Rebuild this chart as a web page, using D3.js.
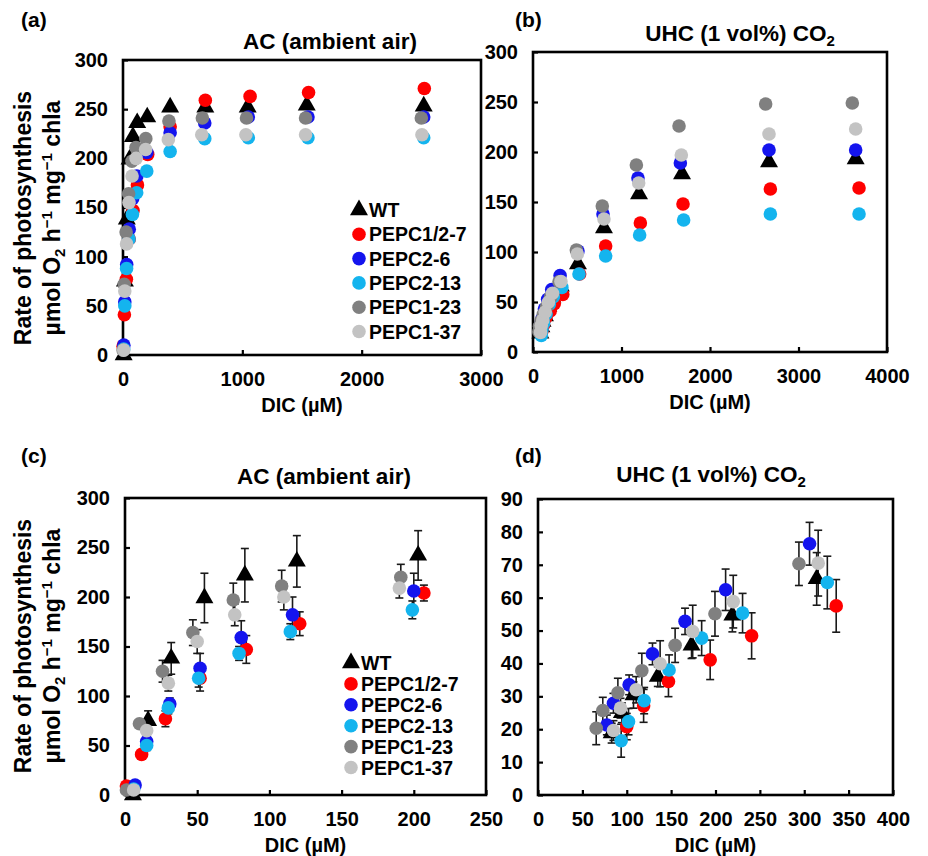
<!DOCTYPE html>
<html>
<head>
<meta charset="utf-8">
<script src="https://cdn.jsdelivr.net/npm/d3@7"></script>
<style>
    body { margin: 0; background: #fff; }
    svg { display: block; font-family: "Liberation Sans", Arial, sans-serif; font-weight: bold; }
</style>
</head>
<body>
<svg></svg>
<script>
/**
 * photosynthesis vs DIC, four panels
 */
const strains = ['WT', 'PEPC1/2-7', 'PEPC2-6', 'PEPC2-13', 'PEPC1-23', 'PEPC1-37'];
const colors = ['#000000', '#ff0000', '#1414ee', '#14b4ee', '#808080', '#c3c3c3'];

// AC (ambient air): [DIC µM, rate, sd]  (sd only measured up to 250 µM)
const acWT = [[5.5, 0, 2], [16, 75, 10], [32, 138, 16], [55, 199, 25], [83, 222, 27], [119, 236, 26], [203, 242, 25],
    [395, 252], [690, 252], [1045, 252], [1540, 254], [2520, 253]];
const acPEPC127 = [[1, 9, 3], [11.5, 41, 4], [28, 77, 8], [52, 118, 13], [84, 147, 14], [121, 173, 12], [207, 204, 8],
    [395, 232], [690, 259], [1065, 263], [1555, 267], [2525, 271]];
const acPEPC26 = [[7, 10, 3], [15, 54, 5], [31, 92, 6], [52, 128, 15], [80.5, 159, 17], [116, 182, 18], [200, 206, 18],
    [395, 226], [685, 236], [1050, 242], [1550, 242], [2520, 242]];
const acPEPC213 = [[6, 6, 3], [15, 50, 5], [30, 88, 6], [51, 118, 9], [79, 143, 7], [114.5, 165, 8], [199, 187, 9],
    [395, 207], [685, 220], [1050, 221], [1550, 221], [2520, 221]];
const acPEPC123 = [[1, 5, 2], [10, 72, 4], [26, 125, 11], [47, 164, 13], [75, 197, 17], [108.5, 211, 16], [191, 220, 13],
    [385, 238], [665, 241], [1035, 241], [1530, 241], [2500, 241]];
const acPEPC137 = [[6, 5, 2], [15, 65, 5], [30, 113, 8], [50, 155, 12], [76, 182, 11], [110, 200, 13], [190, 209, 10],
    [380, 219], [660, 224], [1030, 224], [1530, 224], [2505, 224]];

// UHC (1 vol% CO2): [DIC µM, rate, sd]
const uhcWT = [[83, 18.8, 3], [94.5, 25, 3], [107.6, 30.4, 4], [135, 36, 3], [173, 45.5, 4], [219, 54.6, 5], [314, 65.7, 8],
    [508, 88], [802, 124], [1198, 158], [1684, 178], [2667, 190], [3646, 193]];
const uhcPEPC127 = [[100, 20.8, 4], [119, 27.1, 5], [147, 34.5, 4.6], [194, 41.1, 6], [240.7, 48.4, 7], [336, 57.5, 8],
    [527, 78], [821, 106], [1213, 129], [1695, 148], [2682, 163], [3684, 164]];
const uhcPEPC26 = [[77.6, 21.3, 3], [85, 27.9, 3], [102.7, 33.5, 3], [129, 42.9, 3.3], [165.7, 52.8, 4], [211.4, 62.4, 6.3], [306, 76.4, 6.5],
    [508, 101], [791, 138], [1186, 174], [1665, 189], [2667, 202], [3646, 202]];
const uhcPEPC213 = [[93.7, 16.5, 5], [102, 22.3, 4], [119.6, 28.7, 4], [147.7, 38, 4.6], [184.4, 47.7, 5.3], [230.5, 55.3, 6], [326, 64.6, 8],
    [520, 78], [821, 96], [1205, 117], [1702, 132], [2682, 138], [3684, 138]];
const uhcPEPC123 = [[65.6, 20.3, 5], [73, 25.7, 4], [90, 31.1, 4.4], [117, 37.8, 5.3], [154.5, 45.5, 5.2], [199.4, 55.1, 6.8], [294, 70.3, 6.6],
    [490, 102], [783, 146], [1168, 187], [1650, 226], [2629, 248], [3608, 249]];
const uhcPEPC137 = [[85, 19.6, 3], [93, 26.4, 3], [110.6, 32, 4], [137.6, 39.9, 7], [174.3, 49.7, 8], [220, 58.8, 8], [315.7, 70.5, 10],
    [501, 98], [802, 133], [1194, 169], [1676, 197], [2667, 218], [3646, 223]];

const acData = [acWT, acPEPC127, acPEPC26, acPEPC213, acPEPC123, acPEPC137];
const uhcData = [uhcWT, uhcPEPC127, uhcPEPC26, uhcPEPC213, uhcPEPC123, uhcPEPC137];

const rateTicks = [0, 50, 100, 150, 200, 250, 300];
const uhcRateTicks = [0, 10, 20, 30, 40, 50, 60, 70, 80, 90];
const acWideTicks = [0, 1000, 2000, 3000];
const uhcWideTicks = [0, 1000, 2000, 3000, 4000];
const acLowTicks = [0, 50, 100, 150, 200, 250];
const uhcLowTicks = [0, 50, 100, 150, 200, 250, 300, 350, 400];

const svg = d3
    .select('svg')
    .attr('width', 928)
    .attr('height', 856);

const triangle = d3.symbol().type(d3.symbolTriangle).size(140);

function drawPanel(p) {
    const x = d3.scaleLinear().domain(p.xDomain).range([p.left, p.right]);
    const y = d3.scaleLinear().domain(p.yDomain).range([p.bottom, p.top]);
    const g = svg.append('g');

    const xAxis = g.append('g')
        .attr('transform', `translate(0,${p.bottom})`)
        .call(d3.axisBottom(x).tickValues(p.xTicks).tickSize(-5).tickPadding(17).tickFormat(d3.format('d')));
    const yAxis = g.append('g')
        .attr('transform', `translate(${p.left},0)`)
        .call(d3.axisLeft(y).tickValues(p.yTicks).tickSize(-5).tickPadding(15));
    [xAxis, yAxis].forEach((a) => {
        a.select('.domain').remove();
        a.attr('font-family', null).attr('font-size', 20);
        a.selectAll('line').attr('stroke', '#000').attr('stroke-width', 2.2);
        a.selectAll('text').attr('fill', '#000');
    });

    g.append('rect')
        .attr('x', p.left)
        .attr('y', p.top)
        .attr('width', p.right - p.left)
        .attr('height', p.bottom - p.top)
        .attr('fill', 'none')
        .attr('stroke', '#000')
        .attr('stroke-width', 2.6);

    g.append('text')
        .attr('x', p.labelX)
        .attr('y', p.labelY)
        .attr('font-size', 21)
        .text(p.label);

    const title = g.append('text')
        .attr('x', p.titleX)
        .attr('y', p.titleY)
        .attr('text-anchor', 'middle')
        .attr('font-size', 22.5);
    if (p.uhc) {
        title.append('tspan').text('UHC (1 vol%) CO');
        title.append('tspan').attr('font-size', 15).attr('dy', 5).text('2');
    } else {
        title.text('AC  (ambient air)');
    }

    g.append('text')
        .attr('x', (p.left + p.right) / 2)
        .attr('y', p.bottom + 57)
        .attr('text-anchor', 'middle')
        .attr('font-size', 20)
        .text('DIC (µM)');

    const pts = [];
    p.data.forEach((s, i) => {
        s.filter((d) => d[0] <= p.xDomain[1]).forEach((d) => pts.push({ s: i, x: d[0], y: d[1], sd: d[2] }));
    });

    if (p.errors) {
        const eb = g.append('g').attr('stroke', '#1a1a1a').attr('stroke-width', 1.6);
        pts.filter((d) => d.sd).forEach((d) => {
            const cx = x(d.x);
            eb.append('line').attr('x1', cx).attr('x2', cx).attr('y1', y(d.y - d.sd)).attr('y2', y(d.y + d.sd));
            eb.append('line').attr('x1', cx - 4).attr('x2', cx + 4).attr('y1', y(d.y - d.sd)).attr('y2', y(d.y - d.sd));
            eb.append('line').attr('x1', cx - 4).attr('x2', cx + 4).attr('y1', y(d.y + d.sd)).attr('y2', y(d.y + d.sd));
        });
    }

    pts.forEach((d) => {
        if (d.s === 0) {
            g.append('path')
                .attr('d', triangle)
                .attr('transform', `translate(${x(d.x)},${y(d.y)})`)
                .attr('fill', colors[0]);
        } else {
            g.append('circle')
                .attr('cx', x(d.x))
                .attr('cy', y(d.y))
                .attr('r', 6.8)
                .attr('fill', colors[d.s]);
        }
    });

    if (p.legend) {
        const lg = g.append('g').attr('font-size', 19.5);
        strains.forEach((name, i) => {
            const ly = p.legend.y + i * p.legend.step;
            if (i === 0) {
                lg.append('path')
                    .attr('d', triangle)
                    .attr('transform', `translate(${p.legend.x},${ly})`)
                    .attr('fill', colors[0]);
            } else {
                lg.append('circle').attr('cx', p.legend.x).attr('cy', ly).attr('r', 6.8).attr('fill', colors[i]);
            }
            lg.append('text')
                .attr('x', p.legend.x + 10)
                .attr('y', ly)
                .attr('dy', '0.36em')
                .text(name);
        });
    }

    if (p.yLabel) {
        const yl = g.append('g').attr('font-size', 23);
        yl.append('text')
            .attr('transform', `translate(31,${p.yLabel}) rotate(-90)`)
            .attr('text-anchor', 'middle')
            .text('Rate of  photosynthesis');
        const t2 = yl.append('text')
            .attr('transform', `translate(60,${p.yLabel}) rotate(-90)`)
            .attr('text-anchor', 'middle');
        t2.append('tspan').text('µmol O');
        t2.append('tspan').attr('font-size', 15).attr('dy', 5).text('2');
        t2.append('tspan').attr('dy', -5).text(' h');
        t2.append('tspan').attr('font-size', 15).attr('dy', -8).text('−1');
        t2.append('tspan').attr('dy', 8).text(' mg');
        t2.append('tspan').attr('font-size', 15).attr('dy', -8).text('−1');
        t2.append('tspan').attr('dy', 8).text(' chla');
    }
}

drawPanel({
    label: '(a)', labelX: 21, labelY: 27, titleX: 330, titleY: 49,
    left: 123, right: 481, top: 60, bottom: 355,
    xDomain: [0, 3000], yDomain: [0, 300], xTicks: acWideTicks, yTicks: rateTicks,
    data: acData, legend: { x: 359, y: 210, step: 24.3 }, yLabel: 218,
});
drawPanel({
    label: '(b)', labelX: 515, labelY: 27, titleX: 740, titleY: 41, uhc: true,
    left: 533, right: 887, top: 52, bottom: 352,
    xDomain: [0, 4000], yDomain: [0, 300], xTicks: uhcWideTicks, yTicks: rateTicks,
    data: uhcData,
});
drawPanel({
    label: '(c)', labelX: 21, labelY: 463, titleX: 324, titleY: 484,
    left: 125, right: 486, top: 498, bottom: 795,
    xDomain: [0, 250], yDomain: [0, 300], xTicks: acLowTicks, yTicks: rateTicks,
    data: acData, errors: true, legend: { x: 351, y: 663, step: 20.9 }, yLabel: 646,
});
drawPanel({
    label: '(d)', labelX: 515, labelY: 463, titleX: 711, titleY: 482, uhc: true,
    left: 538, right: 893, top: 499, bottom: 795,
    xDomain: [0, 400], yDomain: [0, 90], xTicks: uhcLowTicks, yTicks: uhcRateTicks,
    data: uhcData, errors: true,
});
</script>
</body>
</html>
